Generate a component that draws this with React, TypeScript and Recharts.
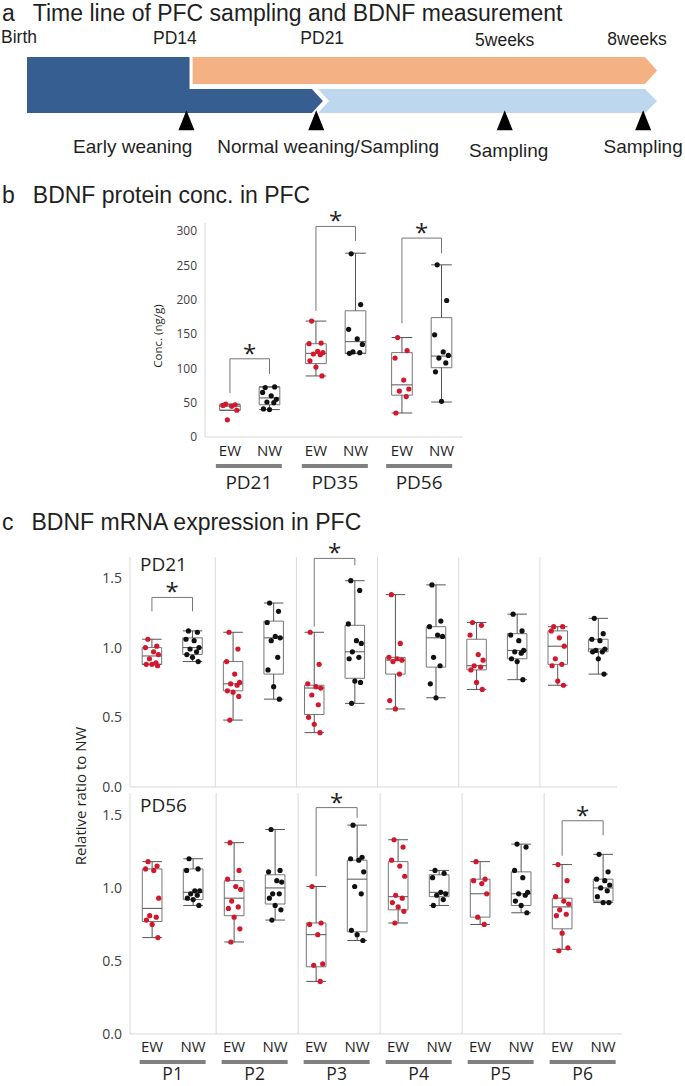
import React from "react";
import { ComposedChart, XAxis, YAxis, Scatter, ReferenceArea, ReferenceLine } from "recharts";

const FONT = "'Open Sans', 'Noto Sans', sans-serif";
const HEAD_FONT = "'Liberation Sans', Arial, sans-serif";
const TEXT = "#1f1f1f";
const RED = "#d3182d";
const BLACK = "#111111";
const BOX = "#767676";
const WHISK = "#555555";
const GRID = "#d9d9d9";
const BAR = "#808080";

// ---------- a: time line (schematic positions, 0 = birth, 100 = 8 weeks) ----------
const milestones = ["Birth", "PD14", "PD21", "5weeks", "8weeks"];
const milestonePos = [0, 26.2, 46.8, 77.3, 100];
const events = ["Early weaning", "Normal weaning/Sampling", "Sampling", "Sampling"];
const eventPos = [25.8, 46.8, 77.3, 99.7];
const timeline = [
  { name: "preweaning", from: 0, to: 26.3, lane: [0, 2.33] },
  { name: "dam", from: 0, to: 46.1, lane: [0, 1] },
  { name: "early", from: 26.8, to: 100, lane: [1.21, 2.33] },
  { name: "normal", from: 47.1, to: 100, lane: [0, 1] },
];

// ---------- b: BDNF protein (ng/g), [min, q1, median, q3, max] ----------
const proteinGroups = ["PD21", "PD35", "PD56"];
const proteinBoxEW = [
  [39, 39, 45, 47, 48],
  [89, 107, 122, 136, 169],
  [35, 61, 76, 123, 145],
];
const proteinBoxNW = [
  [40, 47, 57, 73, 73],
  [122, 122, 139, 184, 268],
  [51, 101, 118, 174, 251],
];
const proteinPtsEW = [
  [48, 47, 46, 45, 39, 25],
  [169, 137, 136, 125, 123, 121, 120, 111, 102, 89],
  [145, 126, 115, 83, 70, 67, 59, 35],
];
const proteinPtsNW = [
  [72, 73, 65, 60, 55, 51, 50, 41, 40],
  [267, 193, 157, 143, 135, 124, 123, 122],
  [251, 199, 149, 124, 119, 115, 108, 95, 52],
];
// [group, bracket top, EW leg end, NW leg end]
const proteinSig = [
  [0, 114, 64, 92],
  [1, 307, 184, 286],
  [2, 290, 166, 268],
];

// ---------- c: BDNF mRNA relative to NW ----------
const primers = ["P1", "P2", "P3", "P4", "P5", "P6"];
const pd21BoxEW = [
  [0.88, 0.88, 0.94, 1.0, 1.06],
  [0.48, 0.69, 0.74, 0.9, 1.11],
  [0.39, 0.52, 0.71, 0.73, 1.11],
  [0.56, 0.81, 0.91, 0.93, 1.38],
  [0.7, 0.84, 0.87, 1.06, 1.18],
  [0.73, 0.88, 1.01, 1.12, 1.15],
];
const pd21BoxNW = [
  [0.9, 0.95, 1.0, 1.07, 1.12],
  [0.63, 0.81, 1.07, 1.19, 1.32],
  [0.6, 0.78, 0.97, 1.16, 1.48],
  [0.64, 0.86, 1.07, 1.15, 1.45],
  [0.77, 0.92, 0.98, 1.1, 1.24],
  [0.81, 0.97, 0.99, 1.06, 1.21],
];
const pd21PtsEW = [
  [1.06, 1.01, 1.0, 0.97, 0.95, 0.92, 0.89, 0.88, 0.88, 0.87],
  [1.11, 0.99, 0.9, 0.81, 0.75, 0.74, 0.73, 0.69, 0.68, 0.65, 0.48],
  [1.11, 0.88, 0.74, 0.72, 0.71, 0.66, 0.59, 0.5, 0.45, 0.39],
  [1.38, 1.03, 0.93, 0.92, 0.91, 0.9, 0.81, 0.62, 0.56],
  [1.18, 1.16, 1.09, 0.95, 0.91, 0.87, 0.86, 0.84, 0.75, 0.7],
  [1.15, 1.15, 1.12, 1.07, 1.01, 0.92, 0.88, 0.87, 0.76, 0.73],
];
const pd21PtsNW = [
  [1.12, 1.11, 1.06, 1.05, 1.0, 0.99, 0.97, 0.95, 0.93, 0.9],
  [1.32, 1.26, 1.18, 1.08, 1.07, 1.05, 0.93, 0.84, 0.72, 0.63],
  [1.48, 1.41, 1.17, 1.05, 1.03, 0.97, 0.93, 0.92, 0.76, 0.75, 0.6],
  [1.45, 1.19, 1.15, 1.09, 1.08, 0.93, 0.87, 0.74, 0.64],
  [1.24, 1.12, 1.09, 1.05, 0.98, 0.97, 0.96, 0.92, 0.9, 0.77],
  [1.21, 1.1, 1.06, 1.05, 0.99, 0.98, 0.97, 0.97, 0.92, 0.81],
];
const pd21Sig = [
  [0, 1.36, 1.26, 1.26],
  [2, 1.64, 1.15, 1.59],
];
const pd56BoxEW = [
  [0.66, 0.77, 0.86, 1.13, 1.18],
  [0.63, 0.81, 0.93, 1.05, 1.31],
  [0.36, 0.46, 0.68, 0.76, 1.01],
  [0.76, 0.85, 0.94, 1.18, 1.33],
  [0.75, 0.8, 0.96, 1.06, 1.18],
  [0.58, 0.72, 0.87, 0.93, 1.16],
];
const pd56BoxNW = [
  [0.88, 0.92, 0.97, 1.13, 1.2],
  [0.78, 0.89, 1.0, 1.09, 1.4],
  [0.64, 0.7, 1.06, 1.19, 1.43],
  [0.88, 0.94, 0.97, 1.09, 1.12],
  [0.83, 0.88, 0.96, 1.11, 1.3],
  [0.9, 0.91, 1.0, 1.06, 1.23],
];
const pd56PtsEW = [
  [1.18, 1.15, 1.13, 1.12, 0.93, 0.81, 0.8, 0.78, 0.75, 0.66],
  [1.31, 1.12, 1.06, 1.01, 0.99, 0.91, 0.87, 0.86, 0.8, 0.72, 0.63],
  [1.01, 0.76, 0.75, 0.68, 0.48, 0.47, 0.36],
  [1.33, 1.28, 1.19, 1.15, 1.08, 0.95, 0.93, 0.9, 0.87, 0.84, 0.76],
  [1.18, 1.06, 1.05, 1.03, 0.96, 0.8, 0.75],
  [1.16, 1.05, 0.94, 0.91, 0.89, 0.85, 0.82, 0.81, 0.69, 0.59, 0.57],
];
const pd56PtsNW = [
  [1.2, 1.13, 1.12, 0.98, 0.98, 0.96, 0.95, 0.93, 0.92, 0.88],
  [1.4, 1.12, 1.11, 1.05, 1.04, 0.96, 0.96, 0.93, 0.88, 0.85, 0.78],
  [1.43, 1.21, 1.2, 1.19, 1.11, 1.01, 0.96, 0.71, 0.68, 0.64],
  [1.12, 1.1, 1.07, 0.97, 0.96, 0.95, 0.92, 0.88],
  [1.3, 1.28, 1.12, 1.07, 0.97, 0.96, 0.95, 0.91, 0.88, 0.83],
  [1.23, 1.11, 1.06, 1.05, 1.02, 1.0, 0.98, 0.94, 0.9, 0.9],
];
const pd56Sig = [
  [2, 1.55, 1.08, 1.48],
  [5, 1.46, 1.22, 1.36],
];

// horizontal spread of dots inside a box (fraction of a group width)
const jitter = [-0.05, 0.06, -0.08, 0.02, 0.08, -0.03, 0.05, -0.07, 0.0, 0.07, -0.04];

const segStyle: Record<string, { color: string; tip: number; notch: number }> = {
  preweaning: { color: "#375e90", tip: 0, notch: 0 },
  dam: { color: "#375e90", tip: 11, notch: 0 },
  early: { color: "#f4b183", tip: 12, notch: 0 },
  normal: { color: "#bdd7ee", tip: 12, notch: 11 },
};

function arrowShape(color: string, tip: number, notch: number) {
  return (p: any) => {
    const { x, y, width, height } = p;
    const r = x + width;
    const b = y + height;
    const m = y + height / 2;
    const pts = [[x, y], [r, y], [r + tip, m], [r, b], [x, b], [x + notch, m]];
    return <polygon points={pts.map((q) => q.join(",")).join(" ")} fill={color} />;
  };
}

const triangle = (p: any) => (
  <polygon points={`${p.cx},${p.cy - 10} ${p.cx + 8},${p.cy + 10} ${p.cx - 8},${p.cy + 10}`} fill="#000" />
);
const nothing = () => <g />;

const milestoneDx = [-8, -14, 6, 0, -8];
const milestoneDy = [-14, -13, -13, -11, -12];
const eventAnchor = ["end", "middle", "middle", "middle"];
const eventDx = [6, 12, 4, 0];
const eventDy = [16, 16, 20, 16];

function Timeline() {
  return (
    <ComposedChart width={685} height={157} margin={{ top: 0, right: 40, bottom: 0, left: 27 }}>
      <XAxis
        xAxisId="top"
        dataKey="x"
        orientation="top"
        type="number"
        domain={[0, 100]}
        ticks={milestonePos}
        interval={0}
        height={47}
        axisLine={false}
        tickLine={false}
        tickSize={0}
        tickMargin={0}
        tick={(p: any) => {
          const i = milestonePos.indexOf(p.payload.value);
          return (
            <text x={p.x + milestoneDx[i]} y={p.y + milestoneDy[i]} textAnchor="middle" fontSize={17.5} fill={TEXT} fontFamily={HEAD_FONT}>
              {milestones[i]}
            </text>
          );
        }}
      />
      <XAxis
        dataKey="x"
        type="number"
        domain={[0, 100]}
        ticks={eventPos}
        interval={0}
        height={30}
        axisLine={false}
        tickLine={false}
        tickSize={0}
        tickMargin={0}
        tick={(p: any) => {
          const i = eventPos.indexOf(p.payload.value);
          return (
            <text x={p.x + eventDx[i]} y={p.y + eventDy[i]} textAnchor={eventAnchor[i]} fontSize={19} fill={TEXT} fontFamily={HEAD_FONT}>
              {events[i]}
            </text>
          );
        }}
      />
      <YAxis dataKey="y" type="number" domain={[-1, 2.33]} hide />
      {timeline.map((s) => {
        const st = segStyle[s.name];
        return (
          <ReferenceArea
            key={s.name}
            x1={s.from}
            x2={s.to}
            y1={s.lane[0]}
            y2={s.lane[1]}
            ifOverflow="visible"
            shape={arrowShape(st.color, st.tip, st.notch)}
          />
        );
      })}
      <Scatter xAxisId="top" data={milestonePos.map((x) => ({ x, y: 0 }))} shape={nothing} isAnimationActive={false} />
      <Scatter data={eventPos.map((x) => ({ x, y: -0.3 }))} shape={triangle} isAnimationActive={false} />
    </ComposedChart>
  );
}

type BoxSet = { pos: number; box: number[]; pts: number[]; red: boolean };

function makeSets(boxEW: number[][], boxNW: number[][], ptsEW: number[][], ptsNW: number[][], offEW: number, offNW: number) {
  const sets: BoxSet[] = [];
  boxEW.forEach((b, g) => {
    sets.push({ pos: g + offEW, box: b, pts: ptsEW[g], red: true });
    sets.push({ pos: g + offNW, box: boxNW[g], pts: ptsNW[g], red: false });
  });
  return sets;
}

function BoxPlot(props: any) {
  const {
    width, height, margin, xDomain, yDomain, yTicks, yFmt, yWidth, tickFont,
    sets, sig, offEW, offNW, separators = [], halfW, mainHeight, sub, grp,
  } = props;
  const redPts: any[] = [];
  const blackPts: any[] = [];
  sets.forEach((s: BoxSet) =>
    s.pts.forEach((v, i) => (s.red ? redPts : blackPts).push({ x: s.pos + jitter[i % jitter.length], y: v }))
  );
  const stars = sig.map((b: number[]) => ({ x: b[0] + (offEW + offNW) / 2, y: b[1] }));
  const subPos = sets.map((s: BoxSet) => s.pos);
  return (
    <ComposedChart width={width} height={height} margin={margin}>
      <XAxis
        dataKey="x"
        type="number"
        domain={xDomain}
        ticks={sub ? subPos : []}
        interval={0}
        height={mainHeight}
        axisLine={{ stroke: GRID }}
        tickLine={false}
        tickSize={0}
        tickMargin={0}
        tick={
          sub
            ? (p: any) => {
                const i = subPos.findIndex((v: number) => Math.abs(v - p.payload.value) < 1e-6);
                return (
                  <text x={p.x} y={p.y + sub.dy} textAnchor="middle" fontSize={sub.font} fill={TEXT} fontFamily={FONT}>
                    {i % 2 === 0 ? "EW" : "NW"}
                  </text>
                );
              }
            : false
        }
      />
      {grp && (
        <XAxis
          xAxisId="grp"
          dataKey="x"
          type="number"
          domain={xDomain}
          ticks={grp.pos}
          interval={0}
          height={grp.height}
          axisLine={false}
          tickLine={false}
          tickSize={0}
          tickMargin={0}
          tick={(p: any) => {
            const i = grp.pos.findIndex((v: number) => Math.abs(v - p.payload.value) < 1e-6);
            return (
              <g>
                <rect x={p.x - 33} y={p.y + grp.barDy} width={66} height={4} fill={BAR} />
                <text x={p.x} y={p.y + grp.textDy} textAnchor="middle" fontSize={grp.font} fill={TEXT} fontFamily={FONT}>
                  {grp.labels[i]}
                </text>
              </g>
            );
          }}
        />
      )}
      <YAxis
        dataKey="y"
        type="number"
        domain={yDomain}
        ticks={yTicks}
        interval={0}
        width={yWidth}
        axisLine={{ stroke: GRID }}
        tickLine={false}
        tickFormatter={yFmt}
        tick={{ fontSize: tickFont, fill: "#404040", fontFamily: FONT }}
      />
      {separators.map((x: number) => (
        <ReferenceLine key={`sep${x}`} x={x} stroke={GRID} />
      ))}
      {sets.flatMap((s: BoxSet, i: number) => {
        const [mn, q1, md, q3, mx] = s.box;
        const p = s.pos;
        const h = halfW;
        return [
          <ReferenceLine key={`wl${i}`} segment={[{ x: p, y: mn }, { x: p, y: q1 }]} stroke={WHISK} />,
          <ReferenceLine key={`wh${i}`} segment={[{ x: p, y: q3 }, { x: p, y: mx }]} stroke={WHISK} />,
          <ReferenceLine key={`cl${i}`} segment={[{ x: p - h, y: mn }, { x: p + h, y: mn }]} stroke={WHISK} />,
          <ReferenceLine key={`ch${i}`} segment={[{ x: p - h, y: mx }, { x: p + h, y: mx }]} stroke={WHISK} />,
          <ReferenceArea key={`bx${i}`} x1={p - h} x2={p + h} y1={q1} y2={q3} fill="none" stroke={BOX} strokeWidth={1} />,
          <ReferenceLine key={`md${i}`} segment={[{ x: p - h, y: md }, { x: p + h, y: md }]} stroke={WHISK} />,
        ];
      })}
      {sig.flatMap((b: number[], i: number) => {
        const a = b[0] + offEW;
        const c = b[0] + offNW;
        return [
          <ReferenceLine key={`sl${i}`} ifOverflow="visible" segment={[{ x: a, y: b[2] }, { x: a, y: b[1] }]} stroke={BOX} />,
          <ReferenceLine key={`st${i}`} ifOverflow="visible" segment={[{ x: a, y: b[1] }, { x: c, y: b[1] }]} stroke={BOX} />,
          <ReferenceLine key={`sr${i}`} ifOverflow="visible" segment={[{ x: c, y: b[1] }, { x: c, y: b[3] }]} stroke={BOX} />,
        ];
      })}
      {grp && (
        <Scatter
          xAxisId="grp"
          data={grp.pos.map((x: number) => ({ x, y: yDomain[0] }))}
          shape={nothing}
          isAnimationActive={false}
        />
      )}
      <Scatter data={redPts} isAnimationActive={false} shape={(p: any) => <circle cx={p.cx} cy={p.cy} r={2.6} fill={RED} />} />
      <Scatter data={blackPts} isAnimationActive={false} shape={(p: any) => <circle cx={p.cx} cy={p.cy} r={2.6} fill={BLACK} />} />
      <Scatter
        data={stars}
        isAnimationActive={false}
        shape={(p: any) => (
          <text x={p.cx} y={p.cy + 3} textAnchor="middle" fontSize={24} fill={TEXT} fontFamily={FONT}>
            *
          </text>
        )}
      />
    </ComposedChart>
  );
}

function Title({ top, letter, text }: { top: number; letter: string; text: string }) {
  return (
    <div
      style={{
        position: "absolute",
        left: 2,
        top,
        fontSize: 23,
        lineHeight: "26px",
        whiteSpace: "nowrap",
        color: TEXT,
        fontFamily: HEAD_FONT,
      }}
    >
      <span>{letter}</span>
      <span style={{ marginLeft: 18 }}>{text}</span>
    </div>
  );
}

function VLabel({ x, y, size, text }: { x: number; y: number; size: number; text: string }) {
  return (
    <div
      style={{
        position: "absolute",
        left: x,
        top: y,
        fontSize: size,
        lineHeight: 1,
        whiteSpace: "nowrap",
        color: TEXT,
        transform: "translate(-50%, -50%) rotate(-90deg)",
      }}
    >
      {text}
    </div>
  );
}

export default function App() {
  const proteinSets = makeSets(proteinBoxEW, proteinBoxNW, proteinPtsEW, proteinPtsNW, 0.29, 0.75);
  const pd21Sets = makeSets(pd21BoxEW, pd21BoxNW, pd21PtsEW, pd21PtsNW, 0.22, 0.72);
  const pd56Sets = makeSets(pd56BoxEW, pd56BoxNW, pd56PtsEW, pd56PtsNW, 0.22, 0.72);
  const fmt1 = (v: number) => v.toFixed(1);
  return (
    <div
      style={{
        position: "absolute",
        left: 0,
        top: 0,
        width: 685,
        height: 1086,
        background: "#fff",
        fontFamily: FONT,
        overflow: "hidden",
      }}
    >
      <Title top={0} letter="a" text="Time line of PFC sampling and BDNF measurement" />
      <div style={{ position: "absolute", left: 0, top: 10 }}>
        <Timeline />
      </div>

      <Title top={182} letter="b" text="BDNF protein conc. in PFC" />
      <div style={{ position: "absolute", left: 0, top: 195 }}>
        <BoxPlot
          width={480}
          height={304}
          margin={{ top: 28, right: 17, bottom: 0, left: 165 }}
          xDomain={[0, 3]}
          yDomain={[0, 312]}
          yTicks={[0, 50, 100, 150, 200, 250, 300]}
          yWidth={40}
          tickFont={12}
          sets={proteinSets}
          sig={proteinSig}
          offEW={0.29}
          offNW={0.75}
          halfW={0.12}
          mainHeight={24}
          sub={{ dy: 19, font: 15 }}
          grp={{ pos: [0.51, 1.51, 2.49], labels: proteinGroups, height: 38, barDy: 3, textDy: 28, font: 19 }}
        />
      </div>
      <VLabel x={158} y={336} size={11.5} text="Conc. (ng/g)" />

      <Title top={509} letter="c" text="BDNF mRNA expression in PFC" />
      <div style={{ position: "absolute", left: 0, top: 528 }}>
        <BoxPlot
          width={640}
          height={274}
          margin={{ top: 29, right: 23, bottom: 14, left: 90 }}
          xDomain={[-0.05, 5.95]}
          yDomain={[0, 1.65]}
          yTicks={[0, 0.5, 1, 1.5]}
          yFmt={fmt1}
          yWidth={40}
          tickFont={14}
          sets={pd21Sets}
          sig={pd21Sig}
          offEW={0.22}
          offNW={0.72}
          halfW={0.12}
          mainHeight={1}
          separators={[1, 2, 3, 4, 5]}
        />
      </div>
      <div style={{ position: "absolute", left: 0, top: 776 }}>
        <BoxPlot
          width={645}
          height={310}
          margin={{ top: 17, right: 23, bottom: 0, left: 90 }}
          xDomain={[-0.05, 5.95]}
          yDomain={[0, 1.65]}
          yTicks={[0, 0.5, 1, 1.5]}
          yFmt={fmt1}
          yWidth={40}
          tickFont={14}
          sets={pd56Sets}
          sig={pd56Sig}
          offEW={0.22}
          offNW={0.72}
          halfW={0.12}
          mainHeight={22}
          separators={[1, 2, 3, 4, 5]}
          sub={{ dy: 18, font: 15 }}
          grp={{ pos: [0.47, 1.47, 2.47, 3.47, 4.47, 5.47], labels: primers, height: 30, barDy: 4, textDy: 24, font: 17.5 }}
        />
      </div>
      <div style={{ position: "absolute", left: 140, top: 555, fontSize: 19, lineHeight: "18px", color: TEXT }}>PD21</div>
      <div style={{ position: "absolute", left: 140, top: 796, fontSize: 19, lineHeight: "18px", color: TEXT }}>PD56</div>
      <VLabel x={80} y={796} size={15} text="Relative ratio to NW" />
    </div>
  );
}
